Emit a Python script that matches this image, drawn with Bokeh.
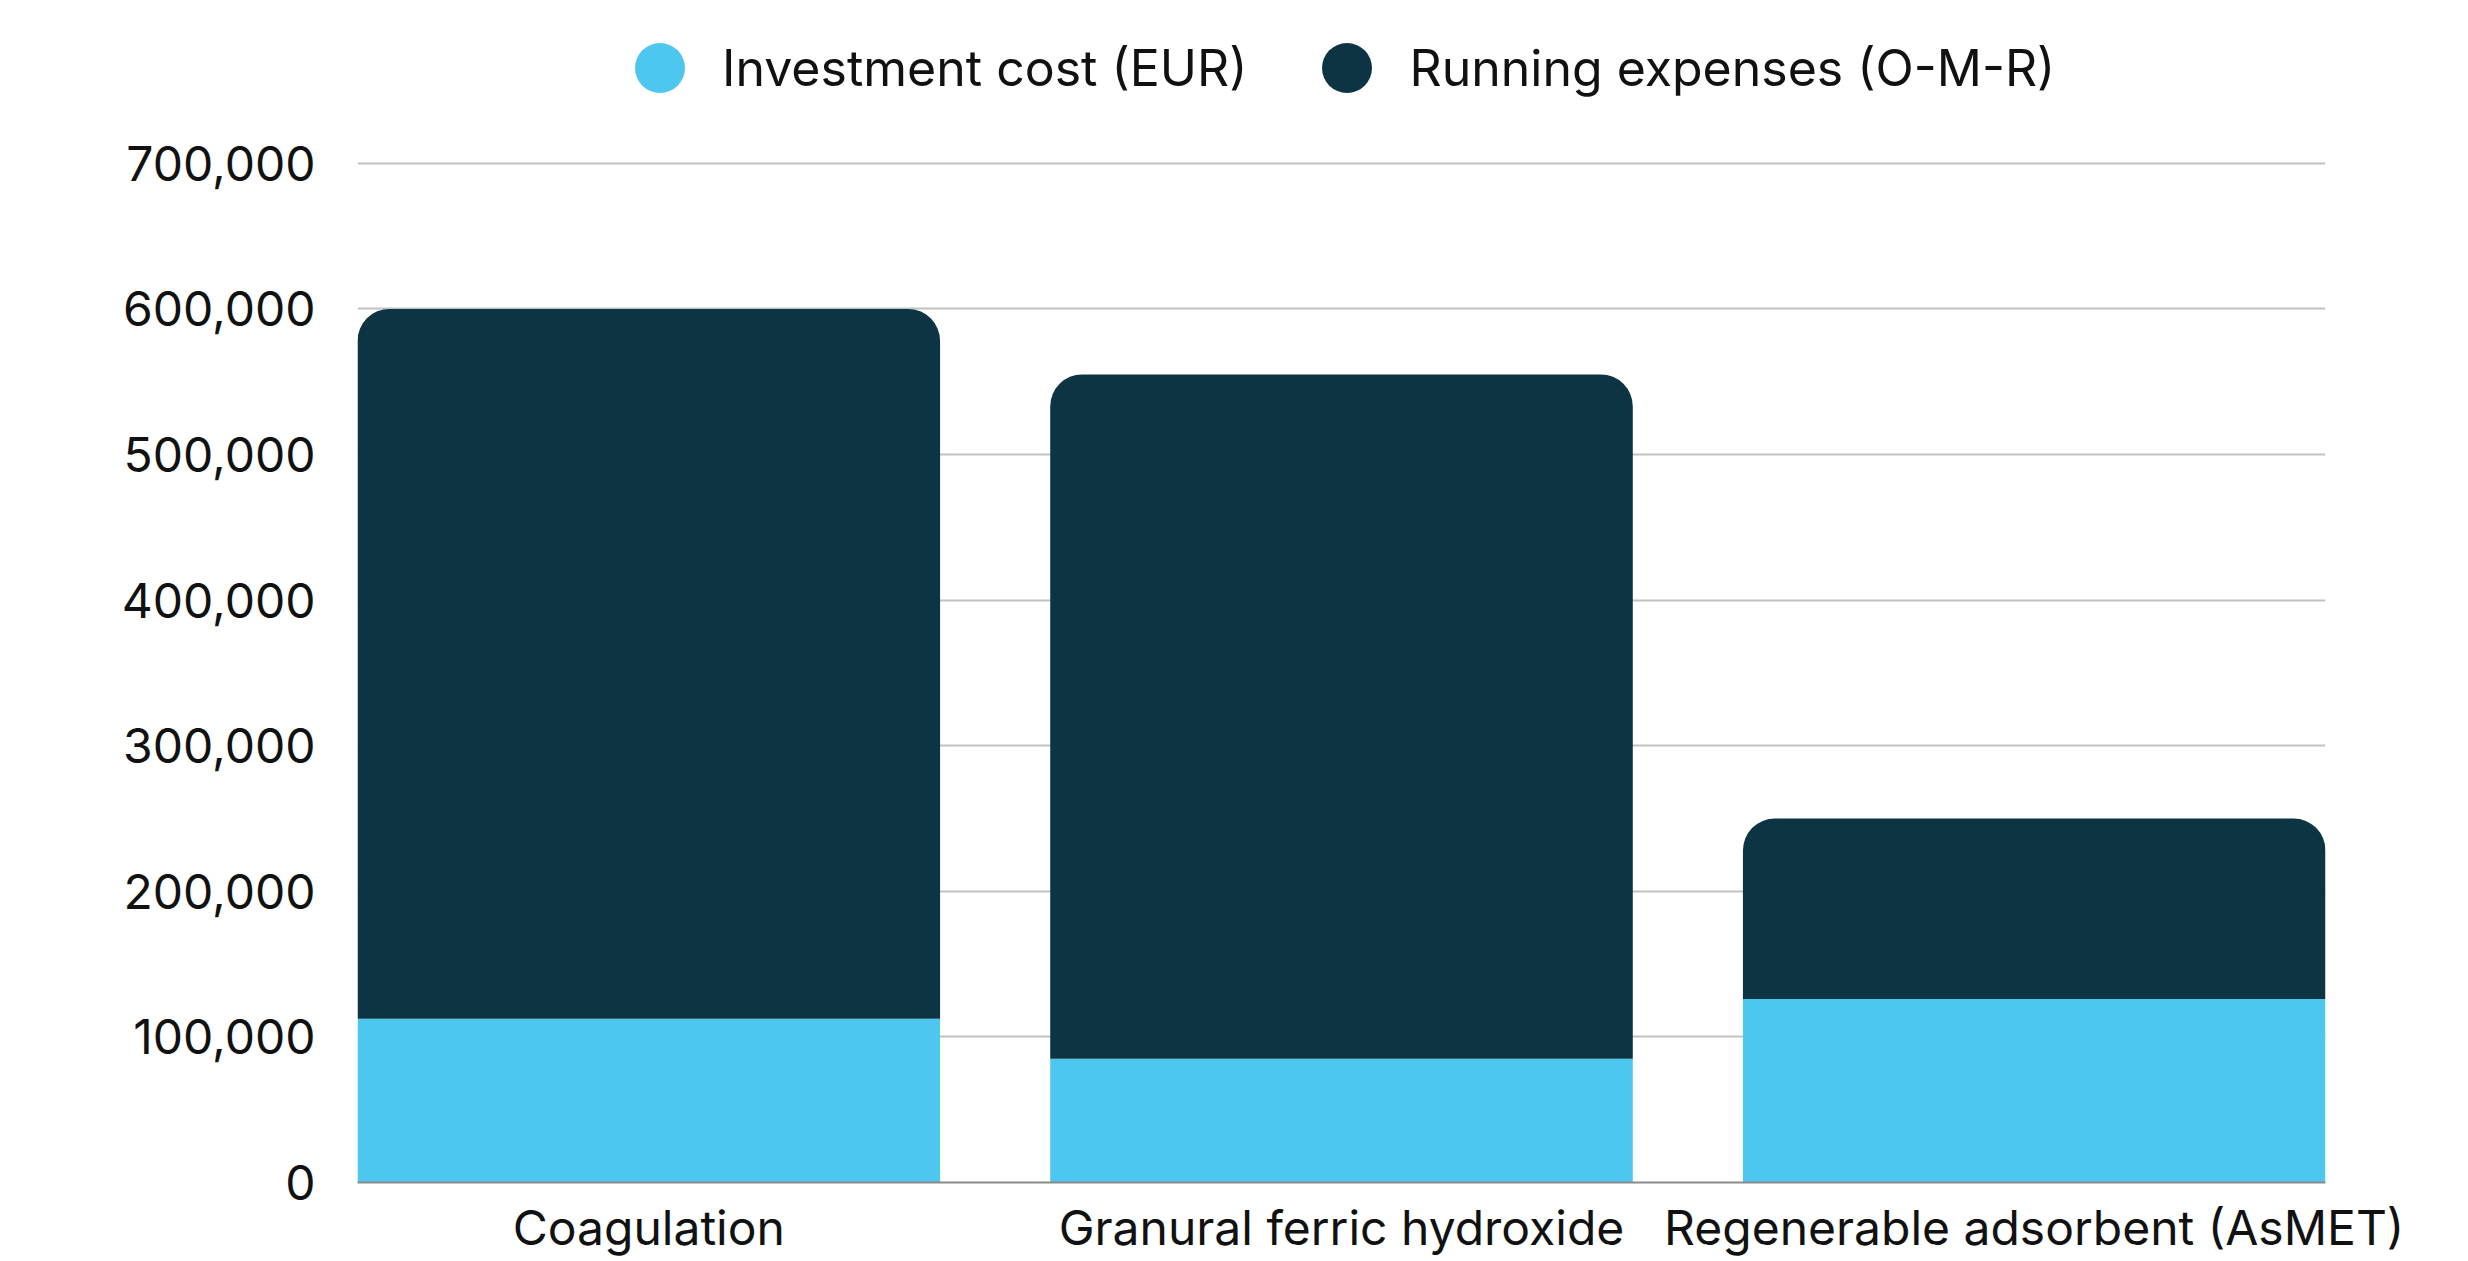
from bokeh.plotting import figure
from bokeh.models import ColumnDataSource, Range1d, FixedTicker, NumeralTickFormatter, Legend, LegendItem
from bokeh.transform import stack
from bokeh.embed import file_html
from bokeh.resources import INLINE

# ---- data ----
categories = ["Coagulation", "Granural ferric hydroxide", "Regenerable adsorbent (AsMET)"]
investment = [112500, 85000, 126000]
running = [487500, 470000, 124000]
series_names = ["Investment cost (EUR)", "Running expenses (O-M-R)"]
y_ticks = [0, 100000, 200000, 300000, 400000, 500000, 600000, 700000]
colors = ["#4DC6F0", "#0C3443"]

FONT = "Inter"
FS = "48px"
LFS = "50px"
TXT = "#111111"
BAR_W = 0.841
Y_END = 811800  # headroom above the last tick, leaving room for the legend

xpos = list(range(len(categories)))
src = ColumnDataSource(dict(x=xpos, investment=investment, running=running))

p = figure(width=2460, height=1259, output_backend="svg", toolbar_location=None,
           x_range=Range1d(-BAR_W / 2, len(categories) - 1 + BAR_W / 2),
           y_range=Range1d(0, Y_END),
           min_border_left=357, min_border_right=135, min_border_top=0, min_border_bottom=72)

p.vbar(x="x", width=BAR_W, bottom=0, top=stack("investment"), source=src,
       fill_color=colors[0], line_color=None)
p.vbar(x="x", width=BAR_W, bottom=stack("investment"), top=stack("investment", "running"),
       source=src, fill_color=colors[1], line_color=None, border_radius=(32, 32, 0, 0))

# legend swatches: zero-size circle markers on the bar data (invisible in the plot,
# drawn as round swatches in the legend)
r1 = p.scatter(x="x", y=stack("investment"), source=src, size=0, marker="circle",
               fill_color=colors[0], line_color=None)
r2 = p.scatter(x="x", y=stack("investment", "running"), source=src, size=0, marker="circle",
               fill_color=colors[1], line_color=None)

legend = Legend(items=[LegendItem(label=series_names[0], renderers=[r1]),
                       LegendItem(label=series_names[1], renderers=[r2])],
                orientation="horizontal", location=(240, 1052),
                glyph_width=125, glyph_height=125, label_height=50, label_standoff=0,
                spacing=37, padding=0, margin=0, border_line_color=None,
                background_fill_alpha=0, label_text_font=FONT, label_text_font_size=LFS,
                label_text_color=TXT)
p.add_layout(legend, "center")

# axes
p.xaxis.ticker = FixedTicker(ticks=xpos)
p.xaxis.major_label_overrides = {i: c for i, c in zip(xpos, categories)}
p.xaxis.axis_line_color = "#8a8a8a"
p.xaxis.axis_line_width = 2
p.xaxis.major_tick_line_color = None
p.xaxis.minor_tick_line_color = None
p.xaxis.major_tick_out = 0
p.xaxis.major_label_standoff = 15
p.xaxis.major_label_text_font = FONT
p.xaxis.major_label_text_font_size = FS
p.xaxis.major_label_text_color = TXT

p.yaxis.ticker = FixedTicker(ticks=y_ticks)
p.yaxis.formatter = NumeralTickFormatter(format="0,0")
p.yaxis.axis_line_color = None
p.yaxis.major_tick_line_color = None
p.yaxis.minor_tick_line_color = None
p.yaxis.major_tick_out = 0
p.yaxis.major_label_standoff = 42
p.yaxis.major_label_text_font = FONT
p.yaxis.major_label_text_font_size = FS
p.yaxis.major_label_text_color = TXT

p.xgrid.visible = False
p.ygrid.ticker = FixedTicker(ticks=y_ticks)
p.ygrid.grid_line_color = "#c2c2c2"
p.ygrid.grid_line_width = 2
p.outline_line_color = None
p.background_fill_color = "white"
p.border_fill_color = "white"

open("out.html", "w").write(file_html(p, INLINE))
